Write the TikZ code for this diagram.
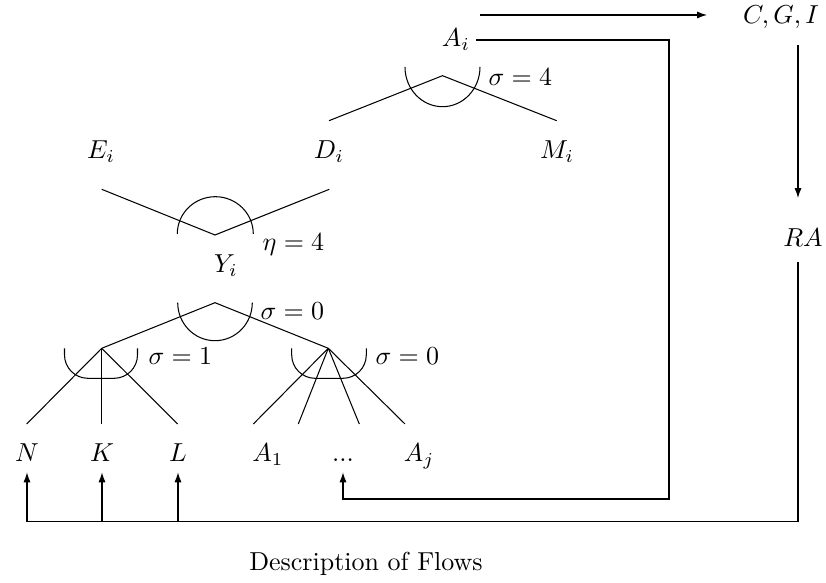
\documentclass[tikz,border=0pt]{standalone}
\usepackage{amsmath}
\usepackage{tikz}
\usetikzlibrary{arrows.meta}

\begin{document}
\begin{tikzpicture}[
        x=0.385pt, y=-0.385pt,
        var/.style={inner sep=2pt},
        leafvar/.style={inner sep=2pt, text height=7pt, text depth=2pt},
        elast/.style={anchor=west, inner sep=2pt},
        flow/.style={-{Latex[length=3.8pt, width=2.7pt]}, line width=0.4pt},
        nest/.style={line width=0.4pt}
    ]
        \useasboundingbox (0,0) rectangle (826,583);

        % --- NODES ---
        \node[var] (CGI) at (781,17) {$C,G,I$};
        \node[var] (Ai) at (456,40) {$A_i$};
        \node[var] (RA) at (803,238) {$RA$};
        \node[var] (Ei) at (101,152) {$E_i$};
        \node[var] (Di) at (329,152) {$D_i$};
        \node[var] (Mi) at (557,152) {$M_i$};
        \node[var] (Yi) at (226,266) {$Y_i$};
        \node[leafvar] (N) at (27,455) {$N$};
        \node[leafvar] (K) at (102,455) {$K$};
        \node[leafvar] (L) at (178,455) {$L$};
        \node[leafvar] (A1) at (268,455) {$A_1$};
        \node[leafvar] (dots) at (343,455) {$...$};
        \node[leafvar] (Aj) at (419,455) {$A_j$};
        \node (title) at (366,564) {Description of Flows};

        % --- ELASTICITIES ---
        \node[elast] (sigA) at (483,77) {$\sigma=4$};
        \node[elast] (etaY) at (257,245) {$\eta=4$};
        \node[elast] (sigT) at (255,311) {$\sigma=0$};
        \node[elast] (sigL) at (143,356) {$\sigma=1$};
        \node[elast] (sigR) at (370,356) {$\sigma=0$};

        % --- NESTS ---
        \coordinate (apA) at (442.5,75.7);
        \coordinate (apY) at (215,235);
        \coordinate (apT) at (215,302.7);
        \coordinate (apL) at (101.7,348.3);
        \coordinate (apR) at (328.3,348.3);

        \draw[nest] (329,120.7) -- (apA) -- (556.7,120.7);
        \draw[nest] (405,67) arc[start angle=180, end angle=0, x radius=37.5, y radius=39.7];

        \draw[nest] (101.7,189.3) -- (apY) -- (329.3,189.3);
        \draw[nest] (177.3,234) arc[start angle=180, end angle=360, x radius=38, y radius=37.3];

        \draw[nest] (apL) -- (apT) -- (apR);
        \draw[nest] (177.7,302.7) arc[start angle=180, end angle=0, x radius=37.3, y radius=38];

        \draw[nest] (apL) -- (26.7,424);
        \draw[nest] (apL) -- (101.7,424);
        \draw[nest] (apL) -- (177.7,424);
        \draw[nest, rounded corners=9pt] (64.5,348.3) |- (137.5,378.3) -- (137.5,348.3);

        \draw[nest] (apR) -- (253.3,424);
        \draw[nest] (apR) -- (298.3,424);
        \draw[nest] (apR) -- (359.3,424);
        \draw[nest] (apR) -- (405,424);
        \draw[nest, rounded corners=9pt] (291.7,348.3) |- (366.3,378.3) -- (366.3,348.3);

        % --- CONNECTIONS ---
        \coordinate (aiTop) at (480,15);
        \coordinate (cgiIn) at (707,15);
        \coordinate (cgiOut) at (798,45);
        \coordinate (raIn) at (798,198);
        \coordinate (raOut) at (798,262);
        \coordinate (bus) at (798,521.7);
        \coordinate (ret) at (669,499);

        \draw[flow] (aiTop) -- (cgiIn);
        \draw[flow] (cgiOut) -- (raIn);
        \draw[flow] (Ai.east) -| (ret) -| (dots.south);
        \draw[flow] (raOut) -- (bus) -| (N.south);
        \draw[flow] (K |- bus) -- (K.south);
        \draw[flow] (L |- bus) -- (L.south);

    \end{tikzpicture}
\end{document}
